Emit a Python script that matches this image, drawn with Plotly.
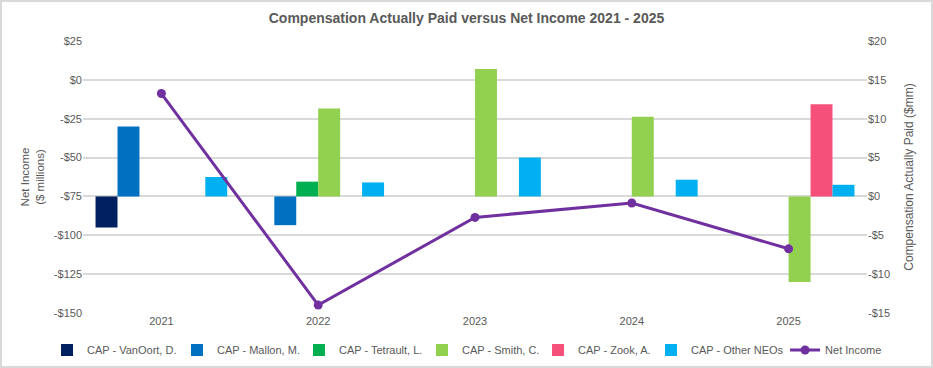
import plotly.graph_objects as go

years = ["2021", "2022", "2023", "2024", "2025"]

cap_vanoort = [-4.0, None, None, None, None]
cap_mallon = [9.0, -3.7, None, None, None]
cap_tetrault = [None, 1.9, None, None, None]
cap_smith = [None, 11.3, 16.4, 10.25, -11.0]
cap_zook = [None, None, None, None, 11.85]
cap_other = [2.5, 1.8, 5.0, 2.15, 1.5]

net_income = [-8.8, -144.9, -88.5, -79.2, -108.7]

ni_tickvals = [25, 0, -25, -50, -75, -100, -125, -150]
ni_ticktext = ["$25", "$0", "-$25", "-$50", "-$75", "-$100", "-$125", "-$150"]
cap_tickvals = [20, 15, 10, 5, 0, -5, -10, -15]
cap_ticktext = ["$20", "$15", "$10", "$5", "$0", "-$5", "-$10", "-$15"]

series = [
    ("CAP - VanOort, D.", cap_vanoort, "#002060"),
    ("CAP - Mallon, M.", cap_mallon, "#0070C0"),
    ("CAP - Tetrault, L.", cap_tetrault, "#00B050"),
    ("CAP - Smith, C.", cap_smith, "#92D050"),
    ("CAP - Zook, A.", cap_zook, "#F4507A"),
    ("CAP - Other NEOs", cap_other, "#00B0F0"),
]

# legend entry positions (paper x), one legend box per entry
legend_x = [-0.0459, 0.1199, 0.2755, 0.4324, 0.5804, 0.7245, 0.8955]
legend_ids = ["legend", "legend2", "legend3", "legend4", "legend5", "legend6", "legend7"]

fig = go.Figure()
for i, (name, vals, color) in enumerate(series):
    fig.add_trace(go.Bar(x=years, y=vals, name=name, marker=dict(color=color, line=dict(width=0)),
                         yaxis="y", legend=legend_ids[i]))

fig.add_trace(go.Scatter(x=years, y=net_income, name="Net Income", mode="lines+markers",
                         line=dict(color="#7030A0", width=3), marker=dict(size=9, color="#7030A0"),
                         yaxis="y2", legend=legend_ids[6]))

font_color = "#595959"
legend_layout = {}
for lid, lx in zip(legend_ids, legend_x):
    legend_layout[lid] = dict(orientation="h", x=lx, xanchor="left", y=-0.136, yanchor="middle",
                              font=dict(size=11, color=font_color), bgcolor="rgba(0,0,0,0)")

fig.update_layout(
    width=933, height=368,
    margin=dict(l=83, r=66, t=41, b=55, autoexpand=False),
    paper_bgcolor="white", plot_bgcolor="white",
    font=dict(family="Liberation Sans, Arial, sans-serif", size=11, color=font_color),
    title=dict(text="<b>Compensation Actually Paid versus Net Income 2021 - 2025</b>",
               x=0.5, xanchor="center", y=0.951, yanchor="middle",
               font=dict(size=14, color=font_color)),
    barmode="group", bargap=0.16, bargroupgap=0,
    showlegend=True,
    xaxis=dict(type="category", showgrid=False, showline=False, ticks="", zeroline=False,
               tickfont=dict(size=11, color=font_color)),
    yaxis=dict(side="right", range=[-15, 20], tickvals=cap_tickvals, ticktext=cap_ticktext,
               showgrid=True, gridcolor="#D9D9D9", gridwidth=1.5, zeroline=False, showline=False,
               ticks="", tickfont=dict(size=11, color=font_color),
               title=dict(text="Compensation Actually Paid ($mm)", font=dict(size=12, color=font_color),
                          standoff=15)),
    yaxis2=dict(side="left", overlaying="y", range=[-150, 25], tickvals=ni_tickvals, ticktext=ni_ticktext,
                showgrid=False, zeroline=False, showline=False, ticks="",
                tickfont=dict(size=11, color=font_color),
                title=dict(text="Net Income<br>($ millions)", font=dict(size=11.5, color=font_color),
                           standoff=6)),
    shapes=[dict(type="rect", xref="paper", yref="paper",
                 x0=-0.1046, x1=1.0829, y0=-0.1985, y1=1.147,
                 line=dict(color="#D9D9D9", width=2), fillcolor="rgba(0,0,0,0)", layer="below")],
    **legend_layout,
)

fig.write_html("out.html", config={"displayModeBar": False},
               post_script="document.body.style.margin='0';document.body.style.overflow='hidden';")
